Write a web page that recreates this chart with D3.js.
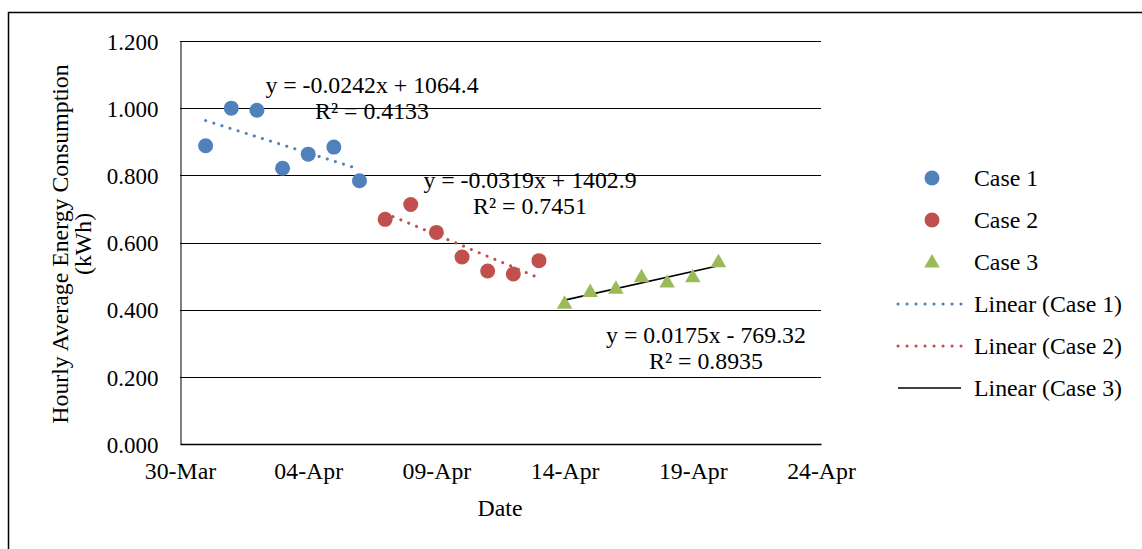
<!DOCTYPE html>
<html>
<head>
<meta charset="utf-8">
<script src="https://cdnjs.cloudflare.com/ajax/libs/d3/7.8.5/d3.min.js"></script>
<style>
  body { margin: 0; background: #fff; }
  svg text { font-family: "Liberation Serif", "Times New Roman", serif; font-size: 23.8px; fill: #000; }
  .yaxis text { font-size: 23px; }
  .grid line { stroke: #000; stroke-width: 1px; }
</style>
</head>
<body>
<script>
// --- data ---
var case1Dates = ["2020-03-31", "2020-04-01", "2020-04-02", "2020-04-03", "2020-04-04", "2020-04-05", "2020-04-06"];
var case1Values = [0.888, 1.000, 0.994, 0.821, 0.863, 0.884, 0.784];
var case2Dates = ["2020-04-07", "2020-04-08", "2020-04-09", "2020-04-10", "2020-04-11", "2020-04-12", "2020-04-13"];
var case2Values = [0.669, 0.713, 0.630, 0.557, 0.515, 0.506, 0.546];
var case3Dates = ["2020-04-14", "2020-04-15", "2020-04-16", "2020-04-17", "2020-04-18", "2020-04-19", "2020-04-20"];
var case3Values = [0.419, 0.454, 0.464, 0.498, 0.482, 0.498, 0.543];
var xTickDates = ["2020-03-30", "2020-04-04", "2020-04-09", "2020-04-14", "2020-04-19", "2020-04-24"];
var yTicks = [0, 0.2, 0.4, 0.6, 0.8, 1.0, 1.2];
var equations = [
  ["y = -0.0242x + 1064.4", "R\u00b2 = 0.4133"],
  ["y = -0.0319x + 1402.9", "R\u00b2 = 0.7451"],
  ["y = 0.0175x - 769.32", "R\u00b2 = 0.8935"]
];

var parse = d3.timeParse("%Y-%m-%d");
var fmt = d3.timeFormat("%d-%b");

var series = [
  { name: "Case 1", dates: case1Dates, values: case1Values, color: "#4F81BD", shape: "circle", trend: "dot", eq: equations[0], eqPos: [372, 93] },
  { name: "Case 2", dates: case2Dates, values: case2Values, color: "#C0504D", shape: "circle", trend: "dot", eq: equations[1], eqPos: [530, 188] },
  { name: "Case 3", dates: case3Dates, values: case3Values, color: "#9BBB59", shape: "triangle", trend: "solid", eq: equations[2], eqPos: [706, 343] }
];
series.forEach(function(s) {
  s.points = s.dates.map(function(d, i) { return { date: parse(d), value: s.values[i] }; });
});

var width = 1142, height = 549;
var svg = d3.select("body").append("svg")
    .attr("width", width)
    .attr("height", height);

// outer border (frame of the picture)
svg.append("rect")
    .attr("x", 8.5).attr("y", 12.5)
    .attr("width", width + 10).attr("height", height + 10)
    .attr("fill", "none").attr("stroke", "#000").attr("stroke-width", 1.5);

var x = d3.scaleTime()
    .domain([parse("2020-03-30"), parse("2020-04-24")])
    .range([180, 821]);
var y = d3.scaleLinear()
    .domain([0, 1.2])
    .range([444, 41]);

// gridlines
svg.append("g").attr("class", "grid")
  .selectAll("line")
  .data(yTicks.slice(1))
  .enter().append("line")
    .attr("x1", x.range()[0]).attr("x2", x.range()[1])
    .attr("y1", function(d) { return Math.round(y(d)) + 0.5; })
    .attr("y2", function(d) { return Math.round(y(d)) + 0.5; });

// y axis
var yAxis = svg.append("g")
    .attr("class", "yaxis")
    .attr("transform", "translate(180.5,0)")
    .call(d3.axisLeft(y).tickValues(yTicks).tickSize(0).tickPadding(22).tickFormat(d3.format(".3f")));
yAxis.select(".domain").attr("stroke", "#000").attr("stroke-width", 1);
yAxis.selectAll("text").attr("font-family", null).attr("font-size", null).attr("dy", "0.36em");

// x axis
var xAxis = svg.append("g")
    .attr("transform", "translate(0,444)")
    .call(d3.axisBottom(x).tickValues(xTickDates.map(parse)).tickSize(0).tickPadding(18).tickFormat(fmt));
xAxis.select(".domain").attr("stroke", "#000").attr("stroke-width", 1.6);
xAxis.selectAll("text").attr("font-family", null).attr("font-size", null).attr("dy", "0.71em");

// axis titles
svg.append("text")
    .attr("x", 500).attr("y", 516)
    .attr("text-anchor", "middle")
    .text("Date");
var yt = svg.append("text")
    .attr("transform", "translate(68,244) rotate(-90)")
    .attr("text-anchor", "middle");
yt.append("tspan").attr("x", 0).attr("y", 0).text("Hourly Average Energy Consumption");
yt.append("tspan").attr("x", 0).attr("y", 23).text("(kWh)");

// least squares trend per case
function fit(pts) {
  var xs = pts.map(function(p) { return +p.date; }), ys = pts.map(function(p) { return p.value; });
  var mx = d3.mean(xs), my = d3.mean(ys);
  var sxy = d3.sum(xs, function(v, i) { return (v - mx) * (ys[i] - my); });
  var sxx = d3.sum(xs, function(v) { return (v - mx) * (v - mx); });
  var b = sxy / sxx, a = my - b * mx;
  var x0 = d3.min(xs), x1 = d3.max(xs);
  return [{ date: new Date(x0), value: a + b * x0 }, { date: new Date(x1), value: a + b * x1 }];
}

var line = d3.line()
    .x(function(d) { return x(d.date); })
    .y(function(d) { return y(d.value); });

series.forEach(function(s) {
  var tl = svg.append("path")
      .datum(fit(s.points))
      .attr("d", line)
      .attr("fill", "none");
  if (s.trend === "dot") {
    tl.attr("stroke", s.color).attr("stroke-width", 3)
      .attr("stroke-linecap", "round").attr("stroke-dasharray", "0.1,8.4");
  } else {
    tl.attr("stroke", "#000").attr("stroke-width", 1.6);
  }
});

var tri = d3.symbol().type(d3.symbolTriangle).size(105);

series.forEach(function(s) {
  var g = svg.append("g");
  if (s.shape === "circle") {
    g.selectAll("circle").data(s.points).enter().append("circle")
      .attr("cx", function(d) { return x(d.date); })
      .attr("cy", function(d) { return y(d.value); })
      .attr("r", 7.5)
      .attr("fill", s.color);
  } else {
    g.selectAll("path").data(s.points).enter().append("path")
      .attr("d", tri)
      .attr("transform", function(d) { return "translate(" + x(d.date) + "," + (y(d.value) + 1) + ")"; })
      .attr("fill", s.color);
  }
});

// trend equations
series.forEach(function(s) {
  var t = svg.append("text").attr("text-anchor", "middle");
  t.append("tspan").attr("x", s.eqPos[0]).attr("y", s.eqPos[1]).text(s.eq[0]);
  t.append("tspan").attr("x", s.eqPos[0]).attr("y", s.eqPos[1] + 26).text(s.eq[1]);
});

// legend
var legend = svg.append("g");
var legendRows = [
  { label: "Case 1", kind: "circle", color: "#4F81BD" },
  { label: "Case 2", kind: "circle", color: "#C0504D" },
  { label: "Case 3", kind: "triangle", color: "#9BBB59" },
  { label: "Linear (Case 1)", kind: "dot", color: "#4F81BD" },
  { label: "Linear (Case 2)", kind: "dot", color: "#C0504D" },
  { label: "Linear (Case 3)", kind: "solid", color: "#000" }
];
var row = legend.selectAll("g").data(legendRows).enter().append("g")
    .attr("transform", function(d, i) { return "translate(0," + (178 + i * 42) + ")"; });
row.each(function(d) {
  var r = d3.select(this);
  if (d.kind === "circle") {
    r.append("circle").attr("cx", 932).attr("cy", 0).attr("r", 7.5).attr("fill", d.color);
  } else if (d.kind === "triangle") {
    r.append("path").attr("d", tri).attr("transform", "translate(932,1)").attr("fill", d.color);
  } else {
    var l = r.append("line").attr("x1", 898).attr("x2", 961).attr("y1", 0).attr("y2", 0);
    if (d.kind === "dot") {
      l.attr("stroke", d.color).attr("stroke-width", 3).attr("stroke-linecap", "round").attr("stroke-dasharray", "0.1,8.9");
    } else {
      l.attr("stroke", d.color).attr("stroke-width", 1.6);
    }
  }
  r.append("text").attr("x", 974).attr("y", 0).attr("dy", "0.35em").text(d.label);
});
</script>
</body>
</html>
